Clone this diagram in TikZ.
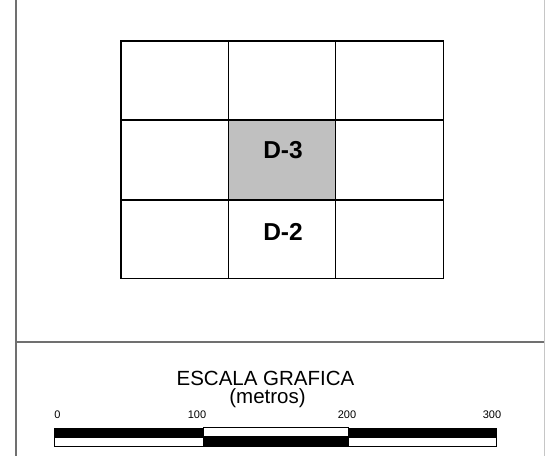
\documentclass[tikz,border=0pt]{standalone}
\usepackage{fontspec}
\setmainfont{Liberation Sans}
\definecolor{framegray}{HTML}{707070}
\definecolor{cellgray}{HTML}{C0C0C0}
\begin{document}
\begin{tikzpicture}[x=1pt,y=-1pt,
  gridline/.style={draw=black,line width=1.2pt},
  frameline/.style={draw=framegray,line width=1.6pt},
  cellname/.style={font=\fontsize{24.5}{27}\selectfont\bfseries,anchor=base,inner sep=0pt},
  scaletitle/.style={font=\fontsize{20.5}{23}\selectfont,anchor=base,inner sep=0pt},
  scalenum/.style={font=\fontsize{11}{12}\selectfont,anchor=base,inner sep=0pt},
  barbox/.style={draw=black,line width=0.9pt}]
\useasboundingbox (0,0) rectangle (545,456);
% frame
\draw[frameline] (16,0) -- (16,456);
\draw[frameline] (16,342) -- (545,342);
\draw[draw=framegray!40,line width=1pt] (544.5,0) -- (544.5,456);
% grid
\fill[cellgray] (228.3,120) rectangle (335.7,200);
\draw[gridline] (121,41) rectangle (443.3,278.3);
\draw[gridline] (228.3,41) -- (228.3,278.3);
\draw[gridline] (335.7,41) -- (335.7,278.3);
\draw[gridline] (121,120) -- (443.3,120);
\draw[gridline] (121,200) -- (443.3,200);
\node[cellname] (d3) at (283,158.8) {D-3};
\node[cellname] (d2) at (283,240.5) {D-2};
% scale
\node[scaletitle] (t1) at (265.5,385) {ESCALA GRAFICA};
\node[scaletitle] (t2) at (267.5,403.5) {(metros)};
\node[scalenum] (n0) at (57.5,418) {0};
\node[scalenum] (n1) at (197,418) {100};
\node[scalenum] (n2) at (347,418) {200};
\node[scalenum] (n3) at (492,418) {300};
\fill[black] (54,427.5) rectangle (497,446.8);
\filldraw[fill=white,barbox] (203.5,427.9) rectangle (348.5,436.5);
\filldraw[fill=white,barbox] (54.4,437.6) rectangle (203.3,446.4);
\filldraw[fill=white,barbox] (348.8,437.6) rectangle (496.6,446.4);
\end{tikzpicture}
\end{document}
